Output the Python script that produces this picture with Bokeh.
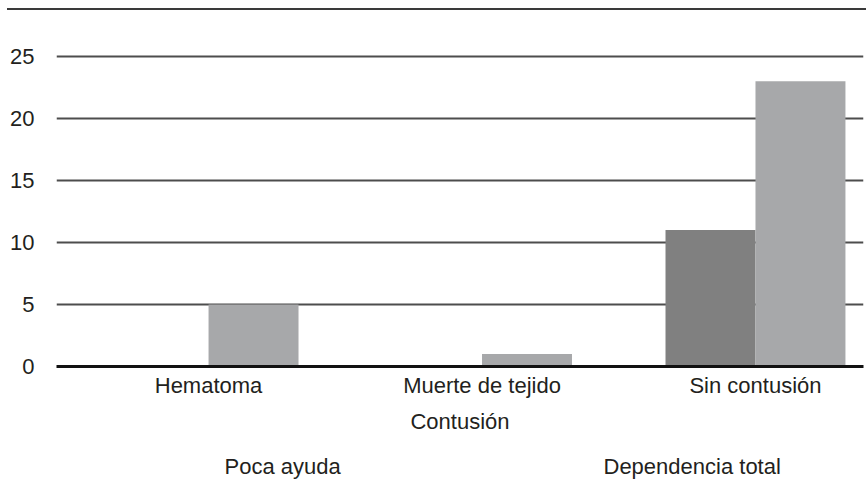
from bokeh.plotting import figure
from bokeh.models import (Range1d, FixedTicker, Legend, LegendItem, ColumnDataSource, Div)
from bokeh.layouts import column
from bokeh.transform import dodge
from bokeh.embed import file_html
from bokeh.resources import INLINE

categories = ["Hematoma", "Muerte de tejido", "Sin contusión"]
poca_ayuda = [0, 0, 11]
dependencia_total = [5, 1, 23]
y_ticks = [0, 5, 10, 15, 20, 25]
series_names = ["Poca ayuda", "Dependencia total"]
axis_title = "Contusión"

FONT = "Liberation Sans"
TXT = "#231f20"
C_DARK = "#808080"
C_LIGHT = "#a7a8aa"

pos = list(range(len(categories)))
src = ColumnDataSource(dict(x=pos, poca=poca_ayuda, dep=dependencia_total))

p = figure(width=866, height=426, output_backend="svg", toolbar_location=None,
           x_range=Range1d(-0.556, 2.395), y_range=Range1d(0, 27),
           min_border_left=56, min_border_right=3, min_border_top=21, min_border_bottom=0)
p.outline_line_color = None
p.background_fill_color = "white"
p.border_fill_color = "white"

bw = 0.329
p.vbar(x=dodge("x", -bw / 2), top="poca", width=bw, source=src,
       fill_color=C_DARK, line_color=None)
p.vbar(x=dodge("x", bw / 2), top="dep", width=bw, source=src,
       fill_color=C_LIGHT, line_color=None)

p.xaxis.ticker = FixedTicker(ticks=pos)
p.xaxis.major_label_overrides = {i: c for i, c in enumerate(categories)}
p.xaxis.axis_line_color = "#111111"
p.xaxis.axis_line_width = 3
p.xaxis.major_tick_line_color = None
p.xaxis.minor_tick_line_color = None
p.xaxis.major_tick_out = 0
p.xaxis.major_tick_in = 0
p.xaxis.major_label_text_font = FONT
p.xaxis.major_label_text_font_size = "22px"
p.xaxis.major_label_text_color = TXT
p.xaxis.major_label_standoff = 6
p.xaxis.axis_label = axis_title
p.xaxis.axis_label_text_font = FONT
p.xaxis.axis_label_text_font_size = "22px"
p.xaxis.axis_label_text_font_style = "normal"
p.xaxis.axis_label_text_color = TXT
p.xaxis.axis_label_standoff = 8

p.yaxis.ticker = FixedTicker(ticks=y_ticks)
p.yaxis.axis_line_color = None
p.yaxis.major_tick_line_color = None
p.yaxis.minor_tick_line_color = None
p.yaxis.major_label_text_font = FONT
p.yaxis.major_label_text_font_size = "22px"
p.yaxis.major_label_text_color = TXT
p.yaxis.major_label_standoff = 16

p.xgrid.grid_line_color = None
p.ygrid.ticker = FixedTicker(ticks=y_ticks)
p.ygrid.grid_line_color = "#4d4d4d"
p.ygrid.grid_line_width = 2

# separate strip holding the legend
lg = figure(width=866, height=46, output_backend="svg", toolbar_location=None,
            x_range=Range1d(0, 1), y_range=Range1d(0, 1),
            x_axis_type=None, y_axis_type=None, min_border=0)
lg.outline_line_color = None
lg.xgrid.grid_line_color = None
lg.ygrid.grid_line_color = None
k1 = lg.vbar(x=[], top=[], width=0.1, fill_color=C_DARK, line_color=None)
k2 = lg.vbar(x=[], top=[], width=0.1, fill_color=C_LIGHT, line_color=None)

legend = Legend(items=[LegendItem(label=series_names[0], renderers=[k1]),
                       LegendItem(label=series_names[1], renderers=[k2])],
                orientation="horizontal", location="bottom_center",
                glyph_width=98, glyph_height=30, label_standoff=2,
                label_width=191, spacing=88, padding=0, margin=0,
                label_text_font=FONT, label_text_font_size="22px",
                label_text_color=TXT, border_line_color=None,
                background_fill_alpha=0)
lg.add_layout(legend, "center")

top_line = Div(text="", width=859, height=2, margin=(8, 0, 0, 7),
               styles={"background-color": "#3a3a3a"})

layout = column(top_line, p, lg, spacing=0)
open("out.html", "w").write(file_html(layout, INLINE))
